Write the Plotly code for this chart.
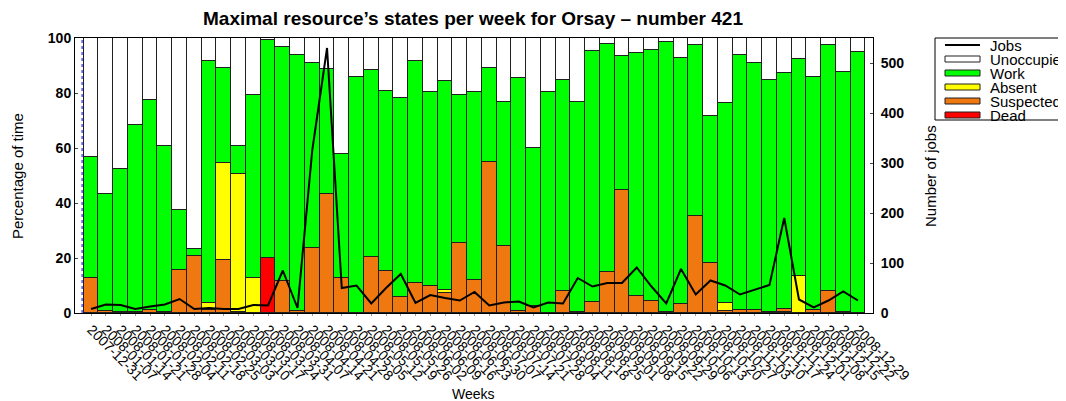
import plotly.graph_objects as go

weeks = ['2007-12-31', '2008-01-07', '2008-01-14', '2008-01-21', '2008-01-28', '2008-02-04',
         '2008-02-11', '2008-02-18', '2008-02-25', '2008-03-03', '2008-03-10', '2008-03-17',
         '2008-03-24', '2008-03-31', '2008-04-07', '2008-04-14', '2008-04-21', '2008-04-28',
         '2008-05-05', '2008-05-12', '2008-05-19', '2008-05-26', '2008-06-02', '2008-06-09',
         '2008-06-16', '2008-06-23', '2008-06-30', '2008-07-07', '2008-07-14', '2008-07-21',
         '2008-07-28', '2008-08-04', '2008-08-11', '2008-08-18', '2008-08-25', '2008-09-01',
         '2008-09-08', '2008-09-15', '2008-09-22', '2008-09-29', '2008-10-06', '2008-10-13',
         '2008-10-20', '2008-10-27', '2008-11-03', '2008-11-10', '2008-11-17', '2008-11-24',
         '2008-12-01', '2008-12-08', '2008-12-15', '2008-12-22', '2008-12-29']

# percentage of time per state (stacked: dead, suspected, absent, work, unoccupied)
dead = [0] * 12 + [20.0] + [0] * 34 + [0.5] + [0] * 5
suspected = [12.7, 0.6, 0.5, 0.2, 1.0, 0.5, 15.7, 20.6, 1.0, 19.4, 0.5, 0, 0, 11.5, 0.8, 23.6,
             43.4, 12.8, 0, 20.2, 15.3, 6.0, 10.9, 9.9, 7.3, 25.5, 12.1, 54.9, 24.2, 0.8, 2.4,
             0, 7.9, 0.3, 3.9, 14.9, 44.7, 6.3, 4.5, 0.5, 3.4, 35.4, 18.2, 0.8, 1.2, 1.2, 0.3,
             0.8, 0, 1.2, 7.9, 0.5, 0]
absent = [0, 0, 0, 0, 0, 0, 0, 0, 2.6, 35.1, 50.2, 12.7, 0, 0, 0, 0, 0, 0, 0, 0, 0, 0, 0, 0,
          1.2, 0, 0, 0, 0, 0, 0, 0, 0, 0, 0, 0, 0, 0, 0, 0, 0, 0, 0, 2.8, 0, 0, 0, 0, 13.3,
          0, 0, 0, 0]
work = [44.0, 42.8, 51.9, 68.3, 76.5, 60.1, 21.7, 2.7, 87.9, 34.6, 10.1, 66.7, 79.1, 85.2,
        92.9, 67.2, 45.3, 45.1, 86.0, 68.0, 65.3, 72.2, 80.8, 70.5, 76.0, 53.6, 68.3, 34.1,
        52.6, 84.6, 57.6, 80.4, 76.9, 76.5, 91.4, 82.8, 48.9, 88.2, 91.0, 98.1, 89.3, 62.2,
        53.3, 72.8, 92.7, 89.6, 84.3, 86.0, 79.1, 84.5, 89.7, 87.0, 95.0]
unoccupied = [43.3, 56.6, 47.6, 31.5, 22.5, 39.4, 62.6, 76.7, 8.5, 10.9, 39.2, 20.6, 0.9, 3.3,
              6.3, 9.2, 11.3, 42.1, 14.0, 11.8, 19.4, 21.8, 8.3, 19.6, 15.5, 20.9, 19.6, 11.0,
              23.2, 14.6, 40.0, 19.6, 15.2, 23.2, 4.7, 2.3, 6.4, 5.5, 4.5, 1.4, 7.3, 2.4, 28.5,
              23.6, 6.1, 9.2, 15.4, 12.7, 7.6, 14.3, 2.4, 12.5, 5.0]
jobs = [8, 17, 16, 8, 13, 17, 28, 8, 10, 8, 8, 16, 15, 85, 10, 326, 530, 50, 55, 19, 50, 78,
        20, 36, 30, 25, 42, 15, 21, 23, 11, 21, 19, 70, 53, 60, 60, 91, 53, 19, 88, 37, 65, 55,
        37, 47, 56, 190, 27, 11, 25, 43, 25]

states = [('Dead', dead, '#ff0000'), ('Suspected', suspected, '#f07810'),
          ('Absent', absent, '#ffff00'), ('Work', work, '#00ff00'),
          ('Unoccupied', unoccupied, '#ffffff')]

FONT = 'Liberation Sans'
# the page body adds an 8px margin, so the figure is 8px smaller and shifted
OFF = 8
W, H = 1066 - OFF, 401 - OFF
PLOT_L, PLOT_R, PLOT_T, PLOT_B = 75, 873, 38, 313   # plot box in page pixels
L, R = PLOT_L - OFF, W - (PLOT_R - OFF)
T, B = PLOT_T - OFF, H - (PLOT_B - OFF)


def px(xp):
    return (xp - PLOT_L) / (PLOT_R - PLOT_L)


def py(yp):
    return (PLOT_B - yp) / (PLOT_B - PLOT_T)


fig = go.Figure()
for name, vals, col in states:
    fig.add_trace(go.Bar(x=weeks, y=vals, name=name, marker_color=col,
                         marker_line_color='#202020', marker_line_width=1, showlegend=False))
fig.add_trace(go.Scatter(x=weeks, y=jobs, yaxis='y2', mode='lines', name='Jobs',
                         line=dict(color='black', width=2), showlegend=False))

fig.update_layout(
    width=W, height=H, barmode='stack', bargap=0,
    margin=dict(l=L, r=R, t=T, b=B),
    plot_bgcolor='white', paper_bgcolor='white',
    font=dict(family=FONT, color='black'),
    title=dict(text='Maximal resource’s states per week for Orsay – number 421',
               x=(473 - OFF) / W, xanchor='center', y=1 - (18 - OFF) / H, yanchor='middle',
               font=dict(size=19, weight='bold')),
    xaxis=dict(type='category', range=[-1.09, 53.02], tickmode='linear', dtick=1,
               tickangle=45, showline=True, automargin=False,
               linecolor='black', linewidth=1, mirror=True, ticks='outside', ticklen=2,
               tickcolor='#999999', tickfont=dict(size=14)),
    yaxis=dict(range=[0, 100], tickvals=[0, 20, 40, 60, 80, 100], showline=True,
               automargin=False, linecolor='black', linewidth=1, ticks='inside', ticklen=3,
               showgrid=False, zeroline=False, tickfont=dict(size=14, weight='bold')),
    yaxis2=dict(range=[0, 550], tickvals=[0, 100, 200, 300, 400, 500], overlaying='y',
                side='right', showline=True, automargin=False, linecolor='black',
                linewidth=1, ticks='inside', ticklen=3, showgrid=False, zeroline=False,
                ticklabelstandoff=4, tickfont=dict(size=14, weight='bold')),
)

# axis titles
fig.add_annotation(text='Weeks', xref='paper', yref='paper', x=px(473), y=py(394),
                   xanchor='center', yanchor='middle', showarrow=False, font=dict(size=14))
fig.add_annotation(text='Percentage of time', xref='paper', yref='paper', x=px(17), y=py(176),
                   xanchor='center', yanchor='middle', textangle=-90, showarrow=False,
                   font=dict(size=15))
fig.add_annotation(text='Number of jobs', xref='paper', yref='paper', x=px(930), y=py(176),
                   xanchor='center', yanchor='middle', textangle=-90, showarrow=False,
                   font=dict(size=15))

# resource count marker
fig.add_shape(type='line', xref='x', yref='paper', x0=-0.61, x1=-0.61, y0=0, y1=1,
              line=dict(color='blue', width=1, dash='dot'))
fig.add_annotation(text='684 resources', xref='x', yref='y', x=-0.62, y=100.5,
                   xanchor='left', yanchor='top', showarrow=False,
                   font=dict(size=14, color='blue', weight='bold'))

# legend drawn by hand in page pixels
fig.add_shape(type='rect', xref='paper', yref='paper', x0=px(935), x1=px(1075),
              y0=py(120), y1=py(38), line=dict(color='black', width=1), fillcolor='white')
legend_items = [('Jobs', None)] + [(n, c) for n, _, c in reversed(states)]
for i, (name, col) in enumerate(legend_items):
    yc = 45 + i * 14
    if col is None:
        fig.add_shape(type='line', xref='paper', yref='paper', x0=px(945), x1=px(980),
                      y0=py(yc), y1=py(yc), line=dict(color='black', width=2))
    else:
        fig.add_shape(type='rect', xref='paper', yref='paper', x0=px(945), x1=px(980),
                      y0=py(yc + 3), y1=py(yc - 3), fillcolor=col,
                      line=dict(color='#202020', width=1))
    fig.add_annotation(text=name, xref='paper', yref='paper', x=px(988), y=py(yc),
                       xanchor='left', yanchor='middle', showarrow=False,
                       font=dict(size=15))

fig.write_html('out.html')
